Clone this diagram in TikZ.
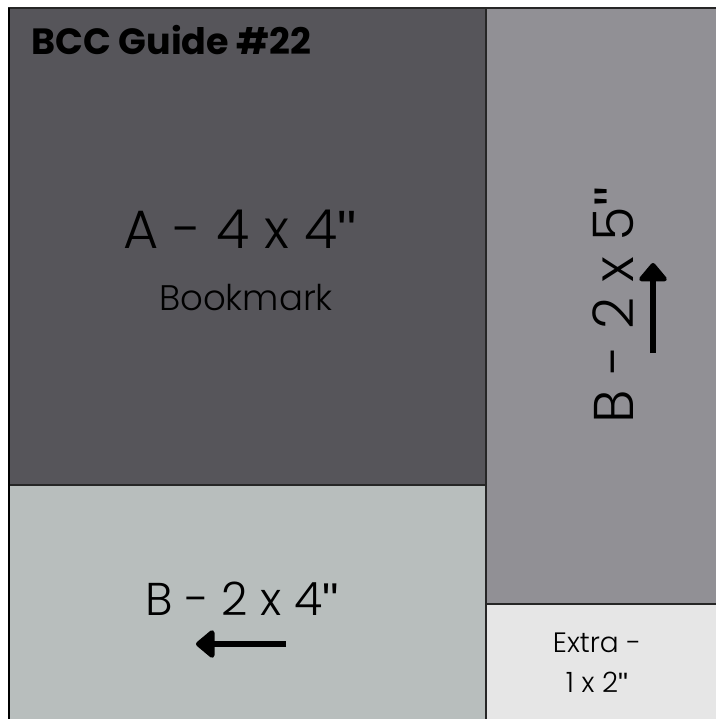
\documentclass[tikz,border=0pt]{standalone}
\usepackage{fontspec}
\setmainfont{Poppins}[UprightFont=* Light, BoldFont=* Bold]
\newfontfamily\qfont{Liberation Sans}
\newcommand{\inch}{{\qfont\symbol{34}}}
\usetikzlibrary{arrows.meta}
\definecolor{cA}{HTML}{56555A}
\definecolor{cB}{HTML}{B8BEBD}
\definecolor{cC}{HTML}{919095}
\definecolor{cD}{HTML}{E6E6E6}
\tikzset{
  panel/.style={draw=black!85, line width=1.3pt},
  bigarrow/.style={line width=6.5pt, -{Triangle[round, length=20pt, width=32pt]}},
  lbl/.style={inner sep=0pt, anchor=base},
}
\begin{document}
\begin{tikzpicture}[x=1pt, y=-1pt]
\useasboundingbox (0,0) rectangle (715,719);
\fill[white] (0,0) rectangle (715,719);
% panels
\path[panel, fill=cA] (9,8) rectangle (486,485);
\path[panel, fill=cB] (9,485) rectangle (486,725);
\path[panel, fill=cC] (486,8) rectangle (720,604);
\path[panel, fill=cD] (486,604) rectangle (720,725);
\draw[line width=2pt] (9,8) -- (9,725);
% texts
\node[lbl, anchor=base west, font=\bfseries\fontsize{36.5}{40}\selectfont] (title) at (31,55) {BCC Guide \#22};
\node[lbl, font=\fontsize{54}{60}\selectfont] (a) at (240,248) {A - 4 x 4\inch};
\node[lbl, font=\fontsize{35.5}{40}\selectfont] (bm) at (246,310) {Bookmark};
\node[lbl, font=\fontsize{46}{52}\selectfont] (b4) at (242,615) {B - 2 x 4\inch};
\node[lbl, rotate=90, font=\fontsize{56}{60}\selectfont] (b5) at (633,305) {B - 2 x 5\inch};
\node[lbl, font=\fontsize{28}{32}\selectfont] (ex1) at (597,652) {Extra -};
\node[lbl, font=\fontsize{28}{32}\selectfont] (ex2) at (597,692) {1 x 2\inch};
% arrows
\coordinate (u1) at (653,353);
\coordinate (u2) at (653,263);
\draw[bigarrow] (u1) -- (u2);
\coordinate (l1) at (286,644);
\coordinate (l2) at (196,644);
\draw[bigarrow] (l1) -- (l2);
\end{tikzpicture}
\end{document}
